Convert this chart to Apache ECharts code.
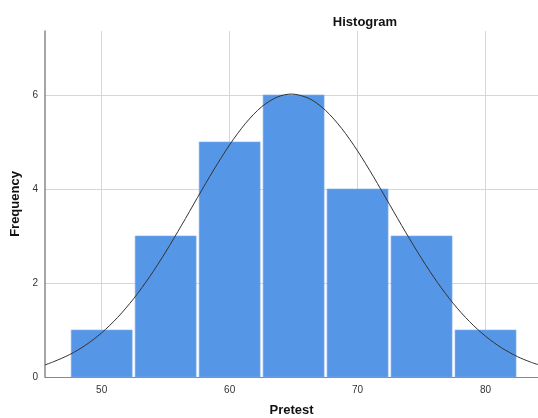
<!DOCTYPE html>
<html>
<head>
<meta charset="utf-8">
<script src="https://cdn.jsdelivr.net/npm/echarts@6/dist/echarts.min.js"></script>
<style>html,body{margin:0;padding:0;background:#fff}#c{width:538px;height:418px}</style>
</head>
<body>
<div id="c"></div>
<script>
var binStarts = [47.5, 52.5, 57.5, 62.5, 67.5, 72.5, 77.5];
var binEnds   = [52.5, 57.5, 62.5, 67.5, 72.5, 77.5, 82.5];
var counts    = [1, 3, 5, 6, 4, 3, 1];
var curveX = [45.57, 46.25, 47.5, 48.75, 50, 51.25, 52.5, 53.75, 55, 56.25, 57.5, 58.75, 60, 61.25, 62.5, 63.75, 64.84, 66.25, 67.5, 68.75, 70, 71.25, 72.5, 73.75, 75, 76.25, 77.5, 78.75, 80, 81.25, 82.5, 83.5, 84.1];
var curveY = [0.257, 0.326, 0.477, 0.679, 0.939, 1.269, 1.667, 2.134, 2.66, 3.23, 3.823, 4.403, 4.94, 5.398, 5.748, 5.959, 6.019, 5.919, 5.67, 5.29, 4.809, 4.256, 3.669, 3.082, 2.522, 2.008, 1.557, 1.178, 0.867, 0.621, 0.433, 0.319, 0.264];
var xTicks = [50, 60, 70, 80];
var yTicks = [0, 2, 4, 6];

var barData = binStarts.map(function (s, i) { return [s, binEnds[i], counts[i]]; });
var lineData = curveX.map(function (x, i) { return [x, curveY[i]]; });
var font = 'Arial, "Liberation Sans", sans-serif';

var chart = echarts.init(document.getElementById('c'), null, {renderer: 'canvas'});
chart.setOption({
  animation: false,
  backgroundColor: '#fff',
  title: {
    text: 'Histogram', left: 360, top: 11, textAlign: 'center',
    textStyle: {fontFamily: font, fontSize: 13, fontWeight: 'bold', color: '#111'}
  },
  grid: {left: 45, right: 0, top: 31, bottom: 41, containLabel: false, outerBoundsMode: 'none'},
  xAxis: {
    type: 'value', min: 45.57, max: 84.1,
    name: 'Pretest', nameLocation: 'middle', nameGap: 27,
    nameTextStyle: {fontFamily: font, fontSize: 13, fontWeight: 'bold', color: '#111'},
    axisLine: {show: true, lineStyle: {color: '#888', width: 1}},
    axisTick: {show: false, customValues: xTicks},
    axisLabel: {customValues: xTicks, fontFamily: font, fontSize: 10, color: '#333', margin: 8},
    splitLine: {show: true, lineStyle: {color: '#d6d6d6', width: 1}}
  },
  yAxis: {
    type: 'value', min: 0, max: 7.36,
    name: 'Frequency', nameLocation: 'middle', nameGap: 22, nameRotate: 90,
    nameTextStyle: {fontFamily: font, fontSize: 13, fontWeight: 'bold', color: '#111'},
    axisLine: {show: true, lineStyle: {color: '#888', width: 1.5}},
    axisTick: {show: false, customValues: yTicks},
    axisLabel: {customValues: yTicks, fontFamily: font, fontSize: 10, color: '#333', margin: 7},
    splitLine: {show: true, lineStyle: {color: '#d6d6d6', width: 1}}
  },
  series: [
    {
      type: 'custom',
      data: barData,
      encode: {x: [0, 1], y: 2},
      renderItem: function (params, api) {
        var p0 = api.coord([api.value(0), api.value(2)]);
        var p1 = api.coord([api.value(1), 0]);
        return {
          type: 'rect',
          shape: {x: p0[0] + 1.5, y: p0[1], width: p1[0] - p0[0] - 3, height: p1[1] - p0[1]},
          style: {fill: '#5596e6', stroke: '#7fb0ee', lineWidth: 0.6}
        };
      },
      z: 2
    },
    {
      type: 'line',
      data: lineData,
      smooth: 0.3,
      showSymbol: false,
      lineStyle: {color: '#333', width: 1},
      z: 3
    }
  ]
});
</script>
</body>
</html>
